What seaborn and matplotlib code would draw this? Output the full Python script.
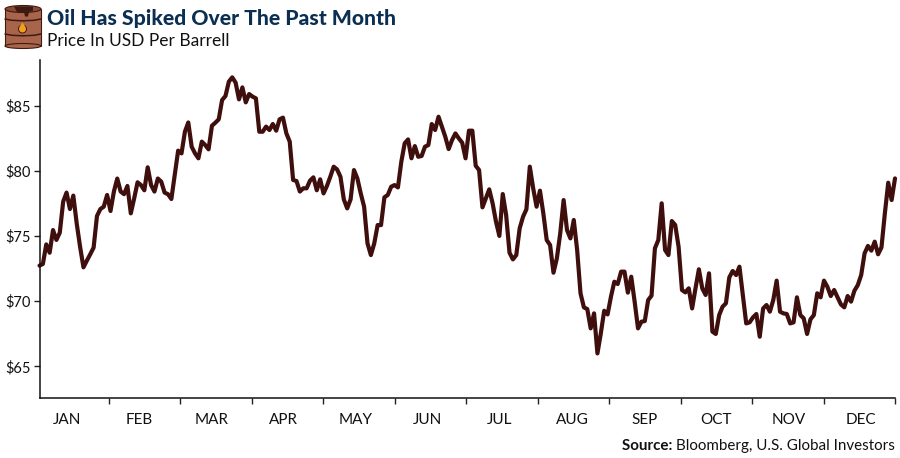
import numpy as np
import pandas as pd
import matplotlib.pyplot as plt
import seaborn as sns
from matplotlib.patches import Ellipse, Rectangle, Polygon

sns.set_style('white')
plt.rcParams['font.family'] = ['Lato', 'DejaVu Sans']

# Prices, month by month
jan = [72.72, 72.85, 74.35, 73.71, 75.45, 74.69, 75.25, 77.63, 78.32, 77.06, 78.09,
       75.96, 74.17, 72.59, 73.10, 73.59, 74.10, 76.53, 77.06, 77.24, 78.14]
feb = [76.91, 78.4, 79.4, 78.4, 78.2, 78.83, 76.73, 77.88, 79.11, 78.9, 78.5, 80.26,
       78.9, 78.4, 79.4, 79.16, 78.32, 78.2, 77.83, 79.67]
mar = [81.54, 81.33, 82.99, 83.7, 81.84, 81.33, 80.95, 82.23, 81.97, 81.64, 83.45,
       83.68, 83.94, 85.42, 85.73, 86.83, 87.16, 86.75, 85.47, 86.39, 85.24, 85.88]
apr = [85.68, 85.55, 82.99, 82.99, 83.38, 83.12, 83.58, 83.07, 83.94, 84.07, 82.87,
       82.23, 79.29, 79.21, 78.4, 78.65, 78.65, 79.24, 79.49, 78.5, 79.34]
may = [78.26, 78.83, 79.54, 80.31, 80.1, 79.54, 77.8, 77.11, 77.8, 80.05, 79.41, 78.26,
       77.24, 74.43, 73.53, 74.43, 75.83, 75.83, 77.96, 78.14, 78.77, 78.9]
jun = [78.72, 80.69, 82.1, 82.4, 80.95, 81.89, 81.07, 81.13, 81.84, 81.97, 83.58,
       83.12, 84.14, 83.38, 82.61, 81.66, 82.35, 82.86, 82.48, 82.15]
jul = [80.95, 83.07, 83.07, 80.38, 80.05, 77.19, 77.88, 78.57, 77.5, 76.09, 75.0, 78.21,
       76.6, 73.71, 73.2, 73.53, 75.58, 76.47, 77.04, 80.31, 78.65, 77.24]
aug = [78.47, 76.73, 74.68, 74.3, 72.18, 73.28, 75.2, 77.75, 75.45, 74.81, 76.22, 73.92,
       70.59, 69.52, 69.39, 67.91, 69.06, 65.99, 67.53, 69.26, 68.98]
sep = [70.34, 71.49, 71.31, 72.26, 72.26, 70.65, 71.87, 69.96, 67.91, 68.42, 68.47,
       70.08, 70.42, 74.05, 74.68, 77.5, 73.92, 73.53, 76.14, 75.84, 74.17, 70.85]
oct_ = [70.67, 70.98, 69.44, 70.98, 72.44, 70.98, 70.47, 72.13, 67.66, 67.48, 68.93,
        69.57, 69.83, 71.82, 72.31, 72.0, 72.64, 70.47, 68.29, 68.37]
nov = [68.75, 69.01, 67.27, 69.44, 69.7, 69.19, 70.08, 71.57, 69.19, 69.06, 69.01,
       68.29, 68.37, 70.29, 68.93, 68.68, 67.48, 68.6, 68.93, 70.6, 70.29]
dec = [71.57, 71.1, 70.39, 70.85, 70.29, 69.75, 69.52, 70.39, 69.96, 70.8, 71.23, 72.0,
       73.66, 74.23, 73.87, 74.56, 73.59, 74.12, 76.73, 79.08, 77.75, 79.41]

months = ['JAN', 'FEB', 'MAR', 'APR', 'MAY', 'JUN', 'JUL', 'AUG', 'SEP', 'OCT', 'NOV', 'DEC']
y_ticks = [65, 70, 75, 80, 85]

# January is a touch shorter than the other months on the axis
x_start = 0.027

prices = jan + feb + mar + apr + may + jun + jul + aug + sep + oct_ + nov + dec
df = pd.DataFrame({'pos': np.linspace(x_start, 12, len(prices)), 'price': prices})

fig = plt.figure(figsize=(9, 4.58), dpi=100)
W, H = 900, 458
ax = fig.add_axes([39.5 / W, 1 - 398 / H, 855.5 / W, 338 / H])

sns.lineplot(data=df, x='pos', y='price', color='#3f0f0d', linewidth=3.0, sort=False,
             errorbar=None, ax=ax, solid_joinstyle='round', clip_on=False)

ax.set_xlim(x_start, 12)
ax.set_ylim(62.57, 88.49)
ax.set_xlabel('')
ax.set_ylabel('')
ax.set_yticks(y_ticks)
ax.set_yticklabels([f'${v}' for v in y_ticks], fontsize=10.5, color='#111111')
ax.set_xticks(range(1, 13))
ax.set_xticklabels([])
# month labels sit a little left of the middle of each month, drifting right over the year
ax.set_xticks(0.411 + np.arange(12) * 1.0098, labels=months, minor=True, fontsize=11, color='#111111')
ax.tick_params(axis='x', which='major', direction='out', length=4.5, width=1, color='#222222', bottom=True)
ax.tick_params(axis='x', which='minor', length=0, pad=10.5, bottom=False)
ax.tick_params(axis='y', direction='out', length=4, width=1, color='#222222', left=True, pad=2)
for side in ['top', 'right']:
    ax.spines[side].set_visible(False)
for side in ['left', 'bottom']:
    ax.spines[side].set_color('#111111')
    ax.spines[side].set_linewidth(1.1)

# Heading
fig.text(47 / W, 1 - 18 / H, 'Oil Has Spiked Over The Past Month', fontsize=15.2, fontweight='black',
         color='#0b2f52', va='center', ha='left')
fig.text(47 / W, 1 - 41 / H, 'Price In USD Per Barrell', fontsize=12.5, color='#111111',
         va='center', ha='left')

# Source line
src = fig.text(895 / W, 1 - 446 / H, 'Bloomberg, U.S. Global Investors', fontsize=10.9,
               color='#111111', va='center', ha='right')
fig.canvas.draw()
box = src.get_window_extent()
fig.text(box.x0 / W, 1 - 446 / H, 'Source: ', fontsize=10.9, fontweight='bold', color='#111111',
         va='center', ha='right')

# Barrel icon
icon = fig.add_axes([0, 1 - 52 / H, 46 / W, 52 / H])
icon.set_xlim(0, 46)
icon.set_ylim(52, 0)
icon.axis('off')
body = '#a9654c'
edge = '#3f1a10'
icon.add_patch(Rectangle((5, 9), 36, 37, fc=body, ec='none'))
icon.plot([5, 5], [9, 46], color=edge, lw=0.8)
icon.plot([41, 41], [9, 46], color=edge, lw=0.8)
icon.add_patch(Ellipse((23, 46), 36, 5, fc=body, ec=edge, lw=0.8))
icon.add_patch(Ellipse((23, 9), 36, 7, fc='#8a4a38', ec=edge, lw=0.8))
icon.add_patch(Polygon([[14, 6.5], [33, 6.5], [33, 11], [29, 12], [28, 16.5], [25, 16.5], [24, 12], [17, 12]],
                       fc=edge, ec='none'))
for yy in [19, 34]:
    xs = np.array([5, 12, 23, 34, 41])
    ys = yy + np.array([0, 1.3, 1.8, 1.3, 0])
    icon.plot(xs, ys, color=edge, lw=1.1)
icon.add_patch(Ellipse((22.5, 29), 8, 8, fc='#f0a21e', ec=edge, lw=0.7))
icon.add_patch(Polygon([[19.5, 27], [22.5, 22.5], [25.5, 27]], fc='#f0a21e', ec='none'))

fig.savefig('out.png', dpi=100)
